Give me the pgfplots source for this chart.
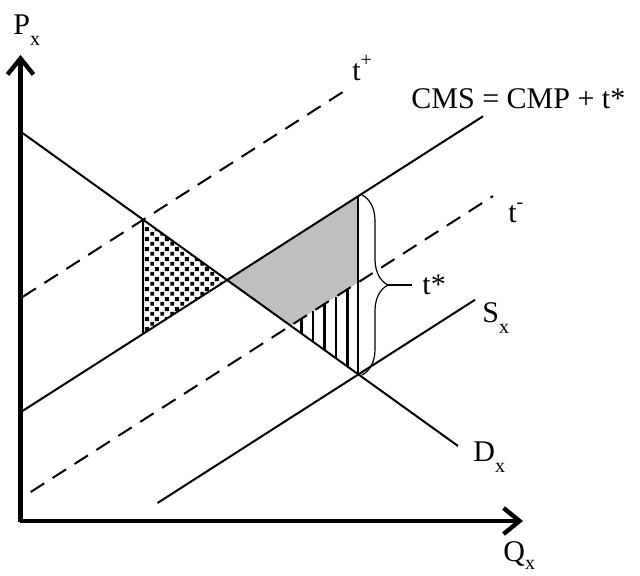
\documentclass[border=0pt]{standalone}
\usepackage{pgfplots}
\pgfplotsset{compat=1.18}
\usepackage{fontspec}
\setmainfont{Liberation Serif}
\usetikzlibrary{patterns,arrows.meta,decorations.pathreplacing}
\pgfdeclarepatternformonly{bigdots}{\pgfpointorigin}{\pgfqpoint{5pt}{5pt}}{\pgfqpoint{5pt}{5pt}}{%
 \pgfpathrectangle{\pgfqpoint{0.2pt}{0.2pt}}{\pgfqpoint{2.1pt}{2.1pt}}%
 \pgfpathrectangle{\pgfqpoint{2.7pt}{2.7pt}}{\pgfqpoint{2.1pt}{2.1pt}}%
 \pgfusepath{fill}}
\newcommand{\sub}[1]{\raisebox{-5.5pt}{\fontsize{10}{10}\selectfont #1}}
\newcommand{\sups}[1]{\raisebox{7pt}{\fontsize{10}{10}\selectfont #1}}
\tikzset{lab/.style={font=\fontsize{15}{18}\selectfont, inner sep=0pt, anchor=base west}}
\begin{document}
\begin{tikzpicture}
\begin{axis}[scale only axis, width=320pt, height=288pt,
  xmin=-20.5, xmax=619.5, ymin=-55, ymax=521,
  hide axis, clip=false]
\path (rel axis cs:0,0) rectangle (rel axis cs:1,1);
% shaded regions
\addplot[draw=none, fill=gray!50] coordinates {(206.6,241) (337.9,325) (337.9,238.8) (270,195.4)} -- cycle;
\addplot[draw=none, pattern=bigdots] coordinates {(122.7,301.2) (206.6,241) (122.7,187.2)} -- cycle;
% vertical hatch lines
\addplot[black, line width=1.2pt] coordinates {(281,187.4) (281,202.3)};
\addplot[black, line width=1.2pt] coordinates {(292.5,179.2) (292.5,209.7)};
\addplot[black, line width=1.2pt] coordinates {(304,170.9) (304,217.1)};
\addplot[black, line width=1.2pt] coordinates {(315.5,162.7) (315.5,224.4)};
\addplot[black, line width=1.2pt] coordinates {(327,154.4) (327,231.8)};
% curves
\addplot[black, line width=1pt] coordinates {(2,388) (437.5,75)};          % D
\addplot[black, line width=1pt] coordinates {(2,110) (462.5,404.7)};       % CMS
\addplot[black, line width=1pt, dash pattern=on 8pt off 5pt] coordinates {(2,224) (325.5,431)};  % t+
\addplot[black, line width=1pt, dash pattern=on 8pt off 5pt] coordinates {(10.2,29) (472.5,324.9)}; % t-
\addplot[black, line width=1pt] coordinates {(137,18) (454.5,221.2)};      % S
\addplot[black, line width=1pt] coordinates {(337.9,146.6) (337.9,325)};
\addplot[black, line width=1pt] coordinates {(122.7,187.2) (122.7,301.2)};
% axes
\addplot[black, line width=2.2pt, -{Straight Barb[length=8pt,width=13pt]}] coordinates {(0,-1) (0,466)};
\addplot[black, line width=2.2pt, -{Straight Barb[length=8pt,width=13pt]}] coordinates {(-1,0) (502.5,0)};
% brace
\draw[black, line width=0.6pt, decorate, decoration={brace, amplitude=13pt}] (axis cs:341.5,326) -- (axis cs:341.5,146);
\draw[black, line width=0.6pt] (axis cs:367.5,236) -- (axis cs:391.5,236);
% labels
\node[lab] at (axis cs:-7.5,486) {P\sub{x}};
\node[lab] at (axis cs:482.5,-41) {Q\raisebox{-4pt}{\fontsize{10}{10}\selectfont x}};
\node[lab] at (axis cs:452.5,59) {D\sub{x}};
\node[lab] at (axis cs:461.5,198) {S\sub{x}};
\node[lab] at (axis cs:487.5,298) {t\sups{-}};
\node[lab] at (axis cs:401.5,226) {t*};
\node[lab] at (axis cs:331.5,440) {t\sups{+}};
\node[lab] at (axis cs:390.5,412) {CMS = CMP + t*};
\end{axis}
\end{tikzpicture}
\end{document}
